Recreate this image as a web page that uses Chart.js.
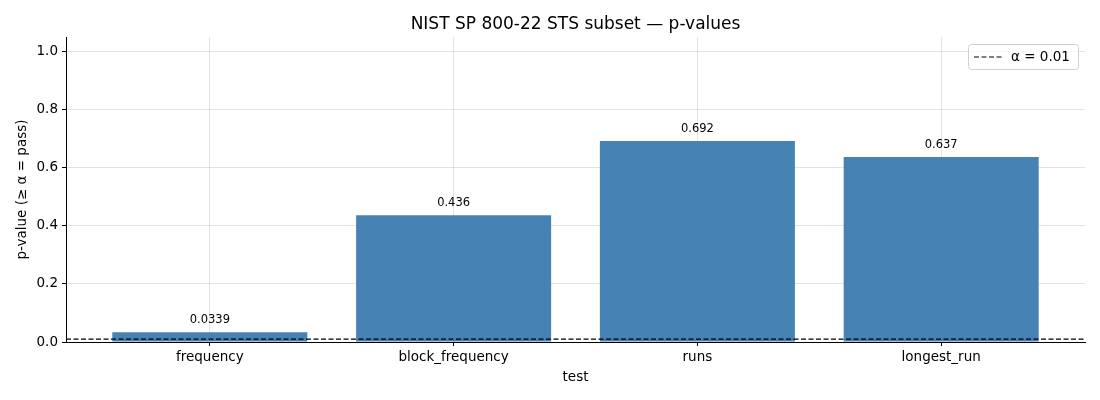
<!DOCTYPE html>
<html>
<head>
<meta charset="utf-8">
<script src="https://cdn.jsdelivr.net/npm/chart.js@4"></script>
<style>
  html, body { margin: 0; padding: 0; background: #fff; }
  #wrap { width: 1100px; height: 400px; }
</style>
</head>
<body>
<div id="wrap"><canvas id="stsChart"></canvas></div>
<script>
var tests = ["frequency", "block_frequency", "runs", "longest_run"];
var pValues = [0.0339, 0.436, 0.692, 0.637];
var valueLabels = ["0.0339", "0.436", "0.692", "0.637"];
var alpha = 0.01;
var yTicks = [0, 0.2, 0.4, 0.6, 0.8, 1.0];

var FONT = "'DejaVu Sans', sans-serif";

// bars on a linear x axis so the side margins can match matplotlib's
var barPoints = pValues.map(function (v, i) { return { x: i, y: v }; });

var xMin = -0.59, xMax = tests.length - 1 + 0.59;

var overlay = {
    id: "overlay",
    afterDraw: function (chart) {
        var ctx = chart.ctx;
        var area = chart.chartArea;
        ctx.save();

        // title
        ctx.fillStyle = "#000";
        ctx.font = "17px " + FONT;
        ctx.textAlign = "center";
        ctx.textBaseline = "alphabetic";
        ctx.fillText("NIST SP 800-22 STS subset \u2014 p-values", (area.left + area.right) / 2, 29);

        // value labels above bars
        var meta = chart.getDatasetMeta(0);
        ctx.font = "11.5px " + FONT;
        meta.data.forEach(function (bar, i) {
            ctx.fillText(valueLabels[i], bar.x, bar.y - 9);
        });

        // legend box inside the plot
        var bx = area.right - 117, by = area.top + 7, bw = 110, bh = 25;
        ctx.fillStyle = "rgba(255,255,255,0.8)";
        ctx.strokeStyle = "#d0d0d0";
        ctx.lineWidth = 1;
        ctx.beginPath();
        ctx.roundRect(bx + 0.5, by + 0.5, bw, bh, 3);
        ctx.fill();
        ctx.stroke();
        ctx.strokeStyle = "#000";
        ctx.lineWidth = 1.2;
        ctx.setLineDash([5, 2.5]);
        ctx.beginPath();
        ctx.moveTo(bx + 6, by + 13);
        ctx.lineTo(bx + 34, by + 13);
        ctx.stroke();
        ctx.setLineDash([]);
        ctx.fillStyle = "#000";
        ctx.font = "13.5px " + FONT;
        ctx.textAlign = "left";
        ctx.textBaseline = "middle";
        ctx.fillText("\u03b1 = 0.01", bx + 43, by + 13);

        ctx.restore();
    }
};

var ctx = document.getElementById("stsChart");
new Chart(ctx, {
    type: "bar",
    data: {
        datasets: [{
            type: "bar",
            data: barPoints,
            backgroundColor: "#4682b4",
            barPercentage: 0.8,
            categoryPercentage: 1.0,
            grouped: false,
            order: 2
        }, {
            type: "line",
            xAxisID: "x2",
            data: [{ x: xMin, y: alpha }, { x: xMax, y: alpha }],
            borderColor: "#000",
            borderWidth: 1.2,
            borderDash: [5, 2.5],
            pointRadius: 0,
            fill: false,
            order: 1
        }]
    },
    options: {
        responsive: true,
        maintainAspectRatio: false,
        animation: false,
        layout: { padding: { left: 14, right: 15, top: 37, bottom: 14 } },
        plugins: {
            legend: { display: false },
            title: { display: false },
            tooltip: { enabled: false }
        },
        scales: {
            x: {
                type: "linear",
                min: xMin,
                max: xMax,
                offset: false,
                z: 1,
                afterBuildTicks: function (axis) {
                    axis.ticks = tests.map(function (t, i) { return { value: i }; });
                },
                afterFit: function (axis) { axis.height = 44; },
                ticks: {
                    color: "#000",
                    font: { family: FONT, size: 13.5 },
                    padding: 3,
                    maxRotation: 0,
                    autoSkip: false,
                    callback: function (v) { return tests[v]; }
                },
                grid: {
                    color: "rgba(176,176,176,0.35)",
                    tickColor: "#000",
                    tickLength: 4,
                    offset: false
                },
                border: { color: "#000", width: 1 },
                title: {
                    display: true,
                    text: "test",
                    color: "#000",
                    font: { family: FONT, size: 13.5 },
                    padding: { top: 0, bottom: 0 }
                }
            },
            x2: {
                type: "linear",
                min: xMin,
                max: xMax,
                offset: false,
                display: false
            },
            y: {
                min: 0,
                max: 1.05,
                z: 1,
                afterBuildTicks: function (axis) {
                    axis.ticks = yTicks.map(function (v) { return { value: v }; });
                },
                afterFit: function (axis) { axis.width = 52; },
                ticks: {
                    color: "#000",
                    font: { family: FONT, size: 13.5 },
                    padding: 4,
                    callback: function (v) { return v.toFixed(1); }
                },
                grid: {
                    color: "rgba(176,176,176,0.35)",
                    tickColor: "#000",
                    tickLength: 4
                },
                border: { color: "#000", width: 1 },
                title: {
                    display: true,
                    text: "p-value (\u2265 \u03b1 = pass)",
                    color: "#000",
                    font: { family: FONT, size: 13.5 },
                    padding: { top: 0, bottom: 0 }
                }
            }
        }
    },
    plugins: [overlay]
});
</script>
</body>
</html>
